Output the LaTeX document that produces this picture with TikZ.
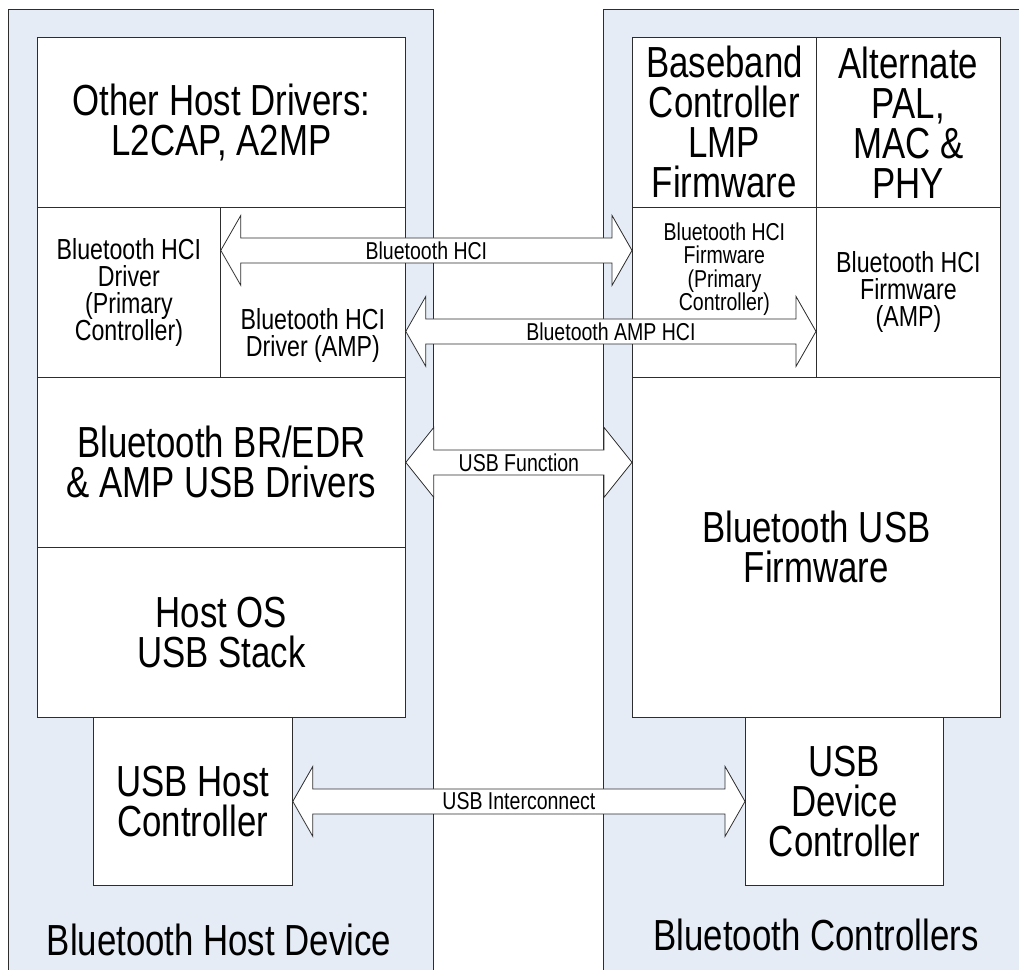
\documentclass[tikz,border=0pt]{standalone}
\usepackage{fontspec}
\setmainfont{Liberation Sans}[FakeStretch=0.8]
\usepackage{xcolor}
\usepackage{tikz}
\usetikzlibrary{calc}
\definecolor{linegray}{RGB}{45, 45, 45}
\definecolor{panelblue}{RGB}{229, 236, 246}
\newcommand{\boxfont}{\fontsize{43.5}{40}\selectfont\lineskiplimit=-50pt}
\newcommand{\hcifont}{\fontsize{29}{27}\selectfont\lineskiplimit=-50pt}
\newcommand{\linkfont}{\fontsize{24.4}{23.5}\selectfont\lineskiplimit=-50pt}

\begin{document}
\begin{tikzpicture}[x=1pt, y=-1pt,
    panelnode/.style={rectangle, draw=linegray, fill=panelblue, line width=0.8pt, inner sep=0pt, anchor=north west},
    layernode/.style={rectangle, draw=linegray, fill=white, line width=0.8pt, inner sep=0pt, anchor=north west, align=center, font=\boxfont},
    hcinode/.style={layernode, font=\hcifont},
    hcitext/.style={align=center, font=\hcifont, inner sep=0pt},
    buslabel/.style={align=center, font=\linkfont, inner sep=0pt},
    busarrow/.style={draw=linegray, fill=white, line width=0.8pt, to path={
        let \p1=(\tikztostart), \p2=(\tikztotarget) in
        (\x1,\y1) -- (\x1+#1,\y1+35pt) -- (\x1+#1,\y1+12.5pt) -- (\x2-#1,\y2+12.5pt)
        -- (\x2-#1,\y2+35pt) -- (\x2,\y2) -- (\x2-#1,\y2-35pt) -- (\x2-#1,\y2-12.5pt)
        -- (\x1+#1,\y1-12.5pt) -- (\x1+#1,\y1-35pt) -- cycle}},
    busarrow/.default=20pt
]
    \useasboundingbox (0,0) rectangle (1019,969);

    % Panels
    \node[panelnode, minimum width=425pt, minimum height=990pt] (hostdev) at (8,9) {};
    \node[panelnode, minimum width=440pt, minimum height=990pt] (ctrldev) at (603,9) {};
    \node[font=\boxfont] (hostlbl) at (219,940) {Bluetooth Host Device};
    \node[font=\boxfont] (ctrllbl) at (816,935) {Bluetooth Controllers};

    % Host stack
    \node[layernode, minimum width=368pt, minimum height=170pt] (otherdrv) at (37,37) {Other Host Drivers:\\L2CAP, A2MP};
    \node[hcinode, minimum width=183pt, minimum height=170pt] (drvprim) at (37,207) {Bluetooth HCI\\Driver\\(Primary\\Controller)};
    \node[hcinode, minimum width=185pt, minimum height=170pt,
          label={[hcitext, yshift=-43pt]center:{Bluetooth HCI\\Driver (AMP)}}] (drvamp) at (220,207) {};
    \node[layernode, minimum width=368pt, minimum height=170pt] (usbdrv) at (37,377) {Bluetooth BR/EDR\\\& AMP USB Drivers};
    \node[layernode, minimum width=368pt, minimum height=170pt] (usbstack) at (37,547) {Host OS\\USB Stack};
    \node[layernode, minimum width=199pt, minimum height=168pt] (hostctl) at (93,717) {USB Host\\Controller};

    % Controller stack
    \node[layernode, minimum width=184pt, minimum height=170pt] (baseband) at (632,37) {Baseband\\Controller\\LMP\\Firmware};
    \node[layernode, minimum width=184pt, minimum height=170pt] (altphy) at (816,37) {Alternate\\PAL,\\MAC \&\\PHY};
    \node[hcinode, minimum width=184pt, minimum height=170pt,
          label={[buslabel, yshift=23pt]center:{Bluetooth HCI\\Firmware\\(Primary\\Controller)}}] (fwprim) at (632,207) {};
    \node[hcinode, minimum width=184pt, minimum height=170pt] (fwamp) at (816,207) {Bluetooth HCI\\Firmware\\(AMP)};
    \node[layernode, minimum width=368pt, minimum height=340pt] (usbfw) at (632,377) {Bluetooth USB\\Firmware};
    \node[layernode, minimum width=198pt, minimum height=168pt] (devctl) at (745,717) {USB\\Device\\Controller};

    % Links
    \draw[busarrow] ([yshift=42pt]drvprim.east) to ([yshift=42pt]fwprim.west);
    \draw[busarrow] ([yshift=-39pt]drvamp.east) to ([yshift=-39pt]fwamp.west);
    \draw[busarrow=28pt] (usbdrv.east) to (usbdrv.east -| usbfw.west);
    \draw[busarrow] (hostctl.east) to (hostctl.east -| devctl.west);

    \node[buslabel] (hcilbl) at ($([yshift=42pt]drvprim.east)!0.5!([yshift=42pt]fwprim.west)$) {Bluetooth HCI};
    \node[buslabel] (amplbl) at ($([yshift=-39pt]drvamp.east)!0.5!([yshift=-39pt]fwamp.west)$) {Bluetooth AMP HCI};
    \node[buslabel] (funclbl) at ($(usbdrv.east)!0.5!(usbdrv.east -| usbfw.west)$) {USB Function};
    \node[buslabel] (intlbl) at ($(hostctl.east)!0.5!(hostctl.east -| devctl.west)$) {USB Interconnect};
\end{tikzpicture}
\end{document}
